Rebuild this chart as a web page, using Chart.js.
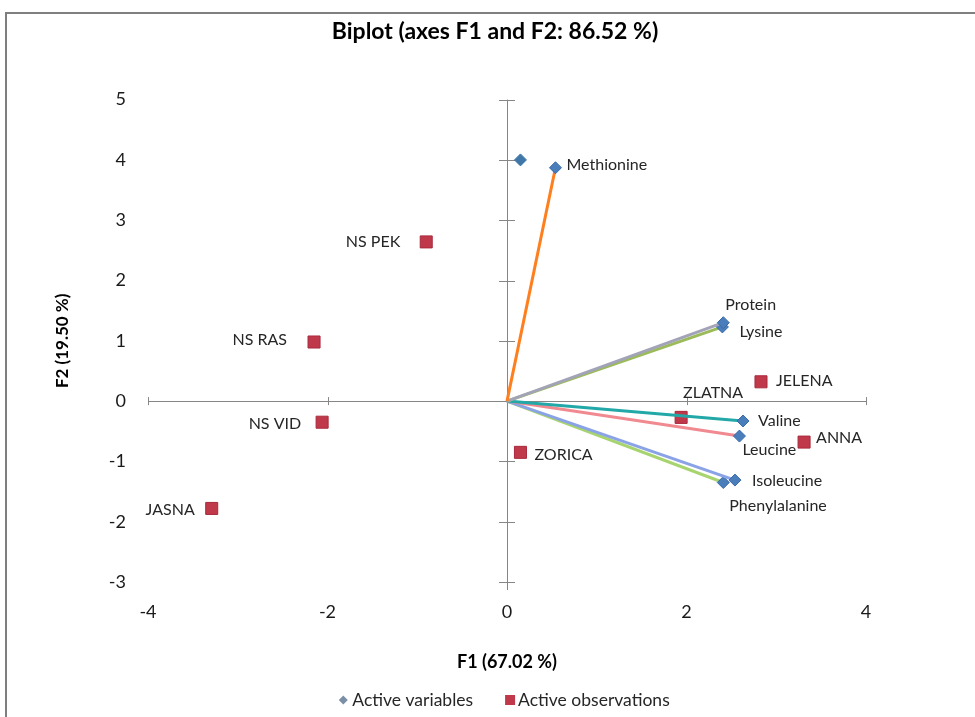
<!DOCTYPE html>
<html>
<head>
<meta charset="utf-8">
<script src="https://cdn.jsdelivr.net/npm/chart.js@4/dist/chart.umd.min.js"></script>
<style>
  html, body { margin: 0; padding: 0; background: #fff; }
  #wrap { width: 975px; height: 717px; position: relative; }
</style>
</head>
<body>
<div id="wrap"><canvas id="chartCanvas"></canvas></div>
<script>
(() => {
'use strict';

// variables (loadings), F1 / F2
const varNames = ['Methionine', 'Protein', 'Lysine', 'Valine', 'Leucine', 'Isoleucine', 'Phenylalanine'];
const varF1 = [0.54, 2.41, 2.40, 2.63, 2.59, 2.54, 2.41];
const varF2 = [3.87, 1.30, 1.23, -0.33, -0.58, -1.31, -1.35];
const varColors = ['#ff7f1e', '#a3a3b8', '#9bbb59', '#23a8a8', '#f08a90', '#8aa2e6', '#a8d46f'];

// the stray unlabeled diamond near the F2 axis
const extraF1 = [0.15];
const extraF2 = [4.00];

// observations
const obsNames = ['NS PEK', 'NS RAS', 'NS VID', 'JASNA', 'ZORICA', 'ZLATNA', 'JELENA', 'ANNA'];
const obsF1 = [-0.90, -2.15, -2.06, -3.29, 0.15, 1.94, 2.83, 3.31];
const obsF2 = [2.64, 0.98, -0.35, -1.78, -0.85, -0.27, 0.32, -0.68];

const xTicks = [-4, -2, 0, 2, 4];
const yTicks = [-3, -2, -1, 0, 1, 2, 3, 4, 5];

const legendLabels = ['Active variables', 'Active observations'];

// label placement: [dx, dy, align]
const LABEL_POS = {
    'Methionine': [11, -3, 'left'],
    'Protein': [2, -18, 'left'],
    'Lysine': [17, 5, 'left'],
    'Valine': [15, 0, 'left'],
    'Leucine': [3, 14, 'left'],
    'Isoleucine': [17, 1, 'left'],
    'Phenylalanine': [6, 23, 'left'],
    'NS PEK': [-26, 0, 'right'],
    'NS RAS': [-27, -2, 'right'],
    'NS VID': [-21, 2, 'right'],
    'JASNA': [-17, 1, 'right'],
    'ZORICA': [14, 2, 'left'],
    'ZLATNA': [2, -25, 'left'],
    'JELENA': [15, -1, 'left'],
    'ANNA': [12, -4, 'left']
};

const FONT = 'Lato, "Open Sans", "Liberation Sans", sans-serif';
const BLUE = '#4a7ebb';
const RED = '#c0394b';

const datasets = [];
varNames.forEach((name, i) => {
    datasets.push({
        label: name,
        data: [{x: 0, y: 0}, {x: varF1[i], y: varF2[i]}],
        showLine: true,
        borderColor: varColors[i],
        borderWidth: 3,
        pointRadius: [0, 6],
        pointStyle: 'rectRot',
        pointBackgroundColor: BLUE,
        pointBorderColor: '#3a6aa8',
        pointBorderWidth: 1,
        names: ['', name]
    });
});
datasets.push({
    label: 'extra',
    data: extraF1.map((x, i) => ({x, y: extraF2[i]})),
    pointRadius: 6,
    pointStyle: 'rectRot',
    pointBackgroundColor: '#3f77a8',
    pointBorderColor: '#3f77a8',
    names: extraF1.map(() => '')
});
datasets.push({
    label: 'obs',
    data: obsF1.map((x, i) => ({x, y: obsF2[i]})),
    pointRadius: 8.5,
    pointStyle: 'rect',
    pointBackgroundColor: RED,
    pointBorderColor: '#a82a3c',
    pointBorderWidth: 1,
    names: obsNames
});

const biplotPlugin = {
    id: 'biplot',
    beforeDatasetsDraw(chart) {
        const {ctx, scales: {x, y}} = chart;
        const x0 = x.getPixelForValue(0), y0 = y.getPixelForValue(0);
        ctx.save();
        ctx.strokeStyle = '#868686';
        ctx.lineWidth = 1;
        ctx.beginPath();
        ctx.moveTo(Math.round(x0) + 0.5, y.top);
        ctx.lineTo(Math.round(x0) + 0.5, y.bottom + 8);
        ctx.moveTo(x.left, Math.round(y0) + 0.5);
        ctx.lineTo(x.right, Math.round(y0) + 0.5);
        yTicks.forEach(v => {
            const py = Math.round(y.getPixelForValue(v)) + 0.5;
            ctx.moveTo(x0 - 8, py);
            ctx.lineTo(x0 + 8, py);
        });
        xTicks.forEach(v => {
            const px = Math.round(x.getPixelForValue(v)) + 0.5;
            ctx.moveTo(px, y0 - 4);
            ctx.lineTo(px, y0 + 4);
        });
        ctx.stroke();
        ctx.restore();
    },
    afterDatasetsDraw(chart) {
        const {ctx} = chart;
        ctx.save();
        ctx.font = '16px ' + FONT;
        ctx.fillStyle = '#262626';
        ctx.textBaseline = 'middle';
        chart.data.datasets.forEach((ds, di) => {
            const meta = chart.getDatasetMeta(di);
            meta.data.forEach((pt, i) => {
                const name = ds.names && ds.names[i];
                if (!name) return;
                const p = LABEL_POS[name] || [10, 0, 'left'];
                ctx.textAlign = p[2];
                ctx.fillText(name, pt.x + p[0], pt.y + p[1]);
            });
        });
        ctx.restore();
    },
    afterDraw(chart) {
        const {ctx} = chart;
        ctx.save();
        // frame (top and left edges only are visible)
        ctx.strokeStyle = '#7f7f7f';
        ctx.lineWidth = 2;
        ctx.beginPath();
        ctx.moveTo(6, chart.height);
        ctx.lineTo(6, 13);
        ctx.lineTo(chart.width, 13);
        ctx.stroke();

        // legend
        ctx.font = '17.5px ' + FONT;
        ctx.fillStyle = '#262626';
        ctx.textBaseline = 'middle';
        ctx.textAlign = 'left';
        const ly = 700;
        const w1 = ctx.measureText(legendLabels[0]).width;
        const w2 = ctx.measureText(legendLabels[1]).width;
        const gap = 37, mk = 13;
        const total = mk + w1 + gap + mk + w2;
        let lx = (chart.scales.x.left + chart.scales.x.right) / 2 - total / 2;
        ctx.fillStyle = '#7a8fa6';
        ctx.beginPath();
        ctx.moveTo(lx + 4, ly - 4.5);
        ctx.lineTo(lx + 8.5, ly);
        ctx.lineTo(lx + 4, ly + 4.5);
        ctx.lineTo(lx - 0.5, ly);
        ctx.closePath();
        ctx.fill();
        ctx.fillStyle = '#262626';
        ctx.fillText(legendLabels[0], lx + mk, ly);
        lx += mk + w1 + gap;
        ctx.fillStyle = RED;
        ctx.fillRect(lx - 5, ly - 5, 10, 10);
        ctx.fillStyle = '#262626';
        ctx.fillText(legendLabels[1], lx + 8, ly);
        ctx.restore();
    }
};

const tickFont = { family: FONT, size: 18 };

new Chart(document.getElementById('chartCanvas'), {
    type: 'scatter',
    data: { datasets },
    plugins: [biplotPlugin],
    options: {
        responsive: true,
        maintainAspectRatio: false,
        animation: false,
        layout: { padding: { left: 15, right: 0, top: 0, bottom: 34 } },
        plugins: {
            title: {
                display: true,
                text: 'Biplot (axes F1 and F2: 86.52 %)',
                color: '#000',
                font: { family: FONT, size: 23, weight: 'bold' },
                padding: { top: 18, bottom: 54 }
            },
            legend: { display: false },
            tooltip: { enabled: false }
        },
        scales: {
            x: {
                type: 'linear',
                min: -4, max: 4,
                afterBuildTicks: s => { s.ticks = xTicks.map(v => ({value: v})); },
                afterFit: s => { s.height = 101; },
                grid: { display: false, drawTicks: false },
                border: { display: false },
                ticks: { color: '#1a1a1a', font: tickFont, padding: 19 },
                title: {
                    display: true,
                    text: 'F1 (67.02 %)',
                    color: '#000',
                    font: { family: FONT, size: 18, weight: 'bold' },
                    padding: { top: 0, bottom: 10 }
                }
            },
            y: {
                type: 'linear',
                min: -3, max: 5,
                afterBuildTicks: s => { s.ticks = yTicks.map(v => ({value: v})); },
                afterFit: s => { s.width = 133; },
                grid: { display: false, drawTicks: false },
                border: { display: false },
                ticks: { color: '#1a1a1a', font: tickFont, padding: 22 },
                title: {
                    display: true,
                    text: 'F2 (19.50 %)',
                    color: '#000',
                    font: { family: FONT, size: 17, weight: 'bold' },
                    padding: { top: 37, bottom: 0 }
                }
            },
            spacer: {
                type: 'linear',
                position: 'right',
                display: true,
                afterFit: s => { s.width = 109; },
                grid: { display: false, drawTicks: false },
                border: { display: false },
                ticks: { display: false }
            }
        }
    }
});

})();
</script>
</body>
</html>
